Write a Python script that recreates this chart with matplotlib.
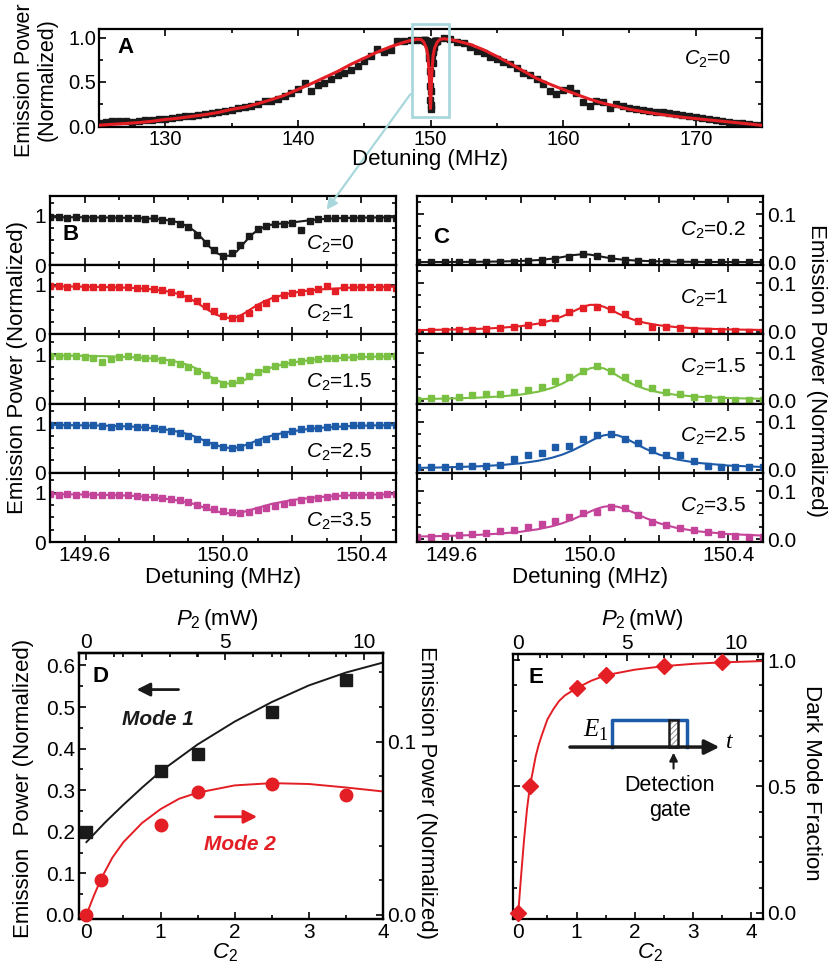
import matplotlib
matplotlib.use("Agg")
import matplotlib.pyplot as plt
import numpy as np
from matplotlib.patches import Rectangle, FancyArrowPatch
from matplotlib.ticker import MultipleLocator, FixedLocator

plt.rcParams["font.family"] = ["Liberation Sans", "DejaVu Sans"]
plt.rcParams["mathtext.fontset"] = "custom"
plt.rcParams["mathtext.rm"] = "Liberation Sans"
plt.rcParams["mathtext.it"] = "Liberation Sans:italic"
plt.rcParams["mathtext.bf"] = "Liberation Sans:bold"
plt.rcParams["hatch.linewidth"] = 0.8

BLACK = "#1a1a1a"
RED = "#e31e24"
GREEN = "#7ac143"
BLUE = "#1d5aa8"
MAGENTA = "#c4449a"
CYAN = "#a9d8dc"

# ---------------- panel A: wide scan, 0.5 MHz steps ----------------
a_left_x = np.arange(125.0, 149.01, 0.5)
a_left = [0.04, 0.05, 0.055, 0.06, 0.055, 0.045, 0.06, 0.065, 0.07, 0.08,
          0.085, 0.095, 0.10, 0.11, 0.115, 0.125, 0.135, 0.145, 0.16, 0.17,
          0.185, 0.20, 0.215, 0.23, 0.25, 0.28, 0.29, 0.31, 0.34, 0.38,
          0.415, 0.49, 0.40, 0.47, 0.49, 0.53, 0.58, 0.60, 0.63, 0.68,
          0.74, 0.79, 0.87, 0.84, 0.86, 0.96, 0.96, 0.97, 0.97]
a_right_x = np.arange(151.0, 175.01, 0.5)
a_right = [1.0, 0.985, 0.95, 0.94, 0.90, 0.85, 0.83, 0.78, 0.76, 0.73,
           0.70, 0.66, 0.60, 0.58, 0.53, 0.48, 0.40, 0.36, 0.41, 0.43,
           0.38, 0.27, 0.23, 0.28, 0.27, 0.21, 0.25, 0.23, 0.20, 0.19,
           0.18, 0.17, 0.165, 0.155, 0.143, 0.135, 0.13, 0.12, 0.10, 0.09,
           0.08, 0.07, 0.06, 0.05, 0.04, 0.03, 0.02, 0.015, 0.01]
a_fit_x = [125, 126, 127, 128, 129, 130, 131, 132, 133, 134, 135, 136, 137, 138,
           139, 140, 141, 142, 143, 144, 145, 146, 147, 148, 148.5, 149, 149.3,
           149.5, 149.7, 149.8, 149.9, 149.95, 150.0, 150.05, 150.1, 150.2, 150.3,
           150.5, 150.7, 151, 151.5, 152, 153, 154, 155, 156, 157, 158, 159, 160,
           161, 162, 163, 164, 165, 166, 167, 168, 169, 170, 171, 172, 173, 174, 175]
a_fit = [0.01, 0.02, 0.03, 0.04, 0.055, 0.075, 0.09, 0.11, 0.13, 0.155, 0.19, 0.215,
         0.255, 0.30, 0.35, 0.415, 0.48, 0.55, 0.62, 0.70, 0.77, 0.84, 0.90, 0.95,
         0.97, 0.985, 0.98, 0.95, 0.88, 0.80, 0.60, 0.38, 0.20, 0.38, 0.60, 0.80,
         0.88, 0.95, 0.98, 0.99, 0.98, 0.965, 0.925, 0.865, 0.79, 0.71, 0.625, 0.54,
         0.475, 0.415, 0.36, 0.305, 0.26, 0.225, 0.19, 0.165, 0.14, 0.12, 0.10,
         0.085, 0.07, 0.055, 0.04, 0.025, 0.008]

# ---------------- panel B: mode-1 dip, 0.025 MHz steps ----------------
b_x = np.arange(149.5, 150.501, 0.025)
b_labels = ["0", "1", "1.5", "2.5", "3.5"]
b_colors = [BLACK, RED, GREEN, BLUE, MAGENTA]
b_c0 = [0.97, 0.97, 0.965, 0.97, 0.965, 0.96, 0.965, 0.96, 0.955, 0.96,
        0.95, 0.94, 0.95, 0.92, 0.89, 0.83, 0.77, 0.62, 0.45, 0.30,
        0.19, 0.24, 0.40, 0.60, 0.73, 0.80, 0.83, 0.84, 0.86, 0.71,
        0.90, 0.93, 0.95, 0.96, 0.955, 0.96, 0.965, 0.96, 0.965, 0.96, 0.965]
b_c1 = [0.97, 0.97, 0.965, 0.97, 0.965, 0.96, 0.965, 0.96, 0.955, 0.95,
        0.93, 0.93, 0.91, 0.89, 0.86, 0.81, 0.74, 0.68, 0.58, 0.47,
        0.38, 0.33, 0.34, 0.44, 0.56, 0.64, 0.74, 0.79, 0.84, 0.85,
        0.87, 0.92, 0.97, 0.87, 0.95, 0.96, 0.96, 0.96, 0.965, 0.96, 0.93]
b_c15 = [0.97, 0.96, 0.97, 0.96, 0.95, 0.93, 0.85, 0.90, 0.95, 0.96,
         0.94, 0.93, 0.92, 0.89, 0.84, 0.80, 0.74, 0.66, 0.57, 0.48,
         0.40, 0.42, 0.47, 0.55, 0.63, 0.70, 0.76, 0.80, 0.84, 0.86,
         0.88, 0.90, 0.92, 0.93, 0.94, 0.95, 0.96, 0.96, 0.96, 0.96, 0.96]
b_c25 = [0.97, 0.96, 0.97, 0.97, 0.96, 0.96, 0.95, 0.93, 0.94, 0.94,
         0.93, 0.93, 0.91, 0.89, 0.85, 0.80, 0.75, 0.69, 0.63, 0.57,
         0.53, 0.50, 0.52, 0.56, 0.62, 0.68, 0.74, 0.78, 0.84, 0.88,
         0.90, 0.91, 0.93, 0.95, 0.95, 0.96, 0.96, 0.97, 0.96, 0.97, 0.97]
b_c35 = [0.97, 0.96, 0.97, 0.96, 0.97, 0.96, 0.96, 0.95, 0.96, 0.95,
         0.94, 0.92, 0.92, 0.90, 0.86, 0.84, 0.80, 0.75, 0.70, 0.66,
         0.62, 0.60, 0.58, 0.61, 0.65, 0.69, 0.73, 0.77, 0.81, 0.85,
         0.87, 0.90, 0.92, 0.93, 0.95, 0.95, 0.96, 0.96, 0.96, 0.97, 0.97]
b_fit_x = [149.5, 149.55, 149.6, 149.65, 149.7, 149.75, 149.8, 149.84, 149.87, 149.9,
           149.92, 149.94, 149.96, 149.98, 150.0, 150.02, 150.04, 150.06, 150.08, 150.1,
           150.12, 150.14, 150.17, 150.2, 150.24, 150.28, 150.33, 150.38, 150.44, 150.5]
b_fit_c0 = [0.97, 0.97, 0.97, 0.965, 0.96, 0.955, 0.94, 0.91, 0.87, 0.78, 0.68, 0.54,
            0.38, 0.25, 0.19, 0.19, 0.28, 0.44, 0.60, 0.71, 0.78, 0.82, 0.845, 0.865,
            0.90, 0.93, 0.95, 0.96, 0.965, 0.97]
b_fit_c1 = [0.97, 0.97, 0.965, 0.96, 0.95, 0.935, 0.91, 0.87, 0.82, 0.74, 0.66, 0.57,
            0.48, 0.40, 0.35, 0.33, 0.35, 0.42, 0.51, 0.60, 0.67, 0.73, 0.79, 0.84,
            0.88, 0.91, 0.93, 0.95, 0.96, 0.965]
b_fit_c15 = [0.97, 0.97, 0.965, 0.96, 0.95, 0.935, 0.91, 0.88, 0.84, 0.78, 0.72, 0.64,
             0.56, 0.48, 0.42, 0.40, 0.42, 0.47, 0.54, 0.62, 0.68, 0.73, 0.79, 0.83,
             0.87, 0.90, 0.92, 0.94, 0.95, 0.96]
b_fit_c25 = [0.97, 0.965, 0.96, 0.955, 0.945, 0.93, 0.90, 0.87, 0.83, 0.78, 0.73, 0.67,
             0.61, 0.56, 0.52, 0.50, 0.51, 0.55, 0.60, 0.66, 0.71, 0.75, 0.80, 0.84,
             0.88, 0.91, 0.93, 0.95, 0.96, 0.965]
b_fit_c35 = [0.97, 0.965, 0.96, 0.955, 0.945, 0.93, 0.90, 0.87, 0.84, 0.80, 0.76, 0.71,
             0.66, 0.62, 0.59, 0.58, 0.585, 0.61, 0.65, 0.69, 0.73, 0.77, 0.81, 0.85,
             0.88, 0.91, 0.93, 0.95, 0.96, 0.965]

# ---------------- panel C: mode-2 peak, 0.04 MHz steps ----------------
c_x = np.arange(149.5, 150.501, 0.04)
c_labels = ["0.2", "1", "1.5", "2.5", "3.5"]
c_c02 = [0.0, 0.0, 0.0, 0.0, 0.0, 0.0005, 0.001, 0.001, 0.002, 0.004, 0.007, 0.011, 0.018,
         0.014, 0.008, 0.004, 0.002, 0.001, 0.001, 0.0, 0.0, 0.0, 0.0, 0.0, 0.0, 0.0]
c_c1 = [0.0, 0.001, 0.001, 0.003, 0.003, 0.005, 0.007, 0.010, 0.014, 0.020, 0.028, 0.040, 0.049,
        0.052, 0.046, 0.036, 0.022, 0.010, 0.010, 0.007, 0.004, 0.002, 0.001, 0.001, 0.0, 0.0]
c_c15 = [0.001, 0.005, 0.005, 0.008, 0.012, 0.014, 0.015, 0.018, 0.022, 0.028, 0.040, 0.050, 0.061,
         0.072, 0.061, 0.050, 0.037, 0.026, 0.019, 0.014, 0.007, 0.005, 0.003, 0.001, 0.001, 0.001]
c_c25 = [0.007, 0.007, 0.007, 0.008, 0.008, 0.008, 0.010, 0.023, 0.032, 0.035, 0.048, 0.049, 0.065,
         0.072, 0.075, 0.065, 0.055, 0.042, 0.030, 0.030, 0.018, 0.008, 0.007, 0.006, 0.006, 0.006]
c_c35 = [0.004, 0.005, 0.007, 0.009, 0.011, 0.012, 0.016, 0.019, 0.025, 0.032, 0.037, 0.046, 0.055,
         0.057, 0.066, 0.064, 0.050, 0.036, 0.029, 0.024, 0.018, 0.014, 0.011, 0.007, 0.005, 0.004]
c_fit_x = [149.5, 149.56, 149.62, 149.68, 149.74, 149.8, 149.85, 149.89, 149.92, 149.95,
           149.98, 150.0, 150.02, 150.04, 150.06, 150.08, 150.1, 150.13, 150.16, 150.2,
           150.25, 150.31, 150.4, 150.5]
c_fit_c02 = [0.0005, 0.0006, 0.0008, 0.0011, 0.0017, 0.0028, 0.0047, 0.0075, 0.0109, 0.0149,
             0.017, 0.016, 0.0136, 0.0109, 0.0085, 0.0066, 0.0052, 0.0038, 0.0028, 0.002,
             0.0014, 0.0009, 0.0006, 0.0004]
c_fit_c1 = [0.003, 0.0036, 0.0044, 0.0056, 0.0076, 0.0112, 0.0164, 0.0235, 0.0314, 0.0414,
            0.0515, 0.0555, 0.0555, 0.0515, 0.045, 0.0379, 0.0314, 0.0235, 0.0179, 0.0129,
            0.0091, 0.0065, 0.0044, 0.0032]
c_fit_c15 = [0.0035, 0.0041, 0.0051, 0.0065, 0.0088, 0.0128, 0.0187, 0.0266, 0.0355, 0.0473,
             0.0605, 0.0673, 0.070, 0.0673, 0.0605, 0.0517, 0.0431, 0.0322, 0.0243, 0.0173,
             0.012, 0.0083, 0.0055, 0.0039]
c_fit_c25 = [0.0042, 0.005, 0.0061, 0.0076, 0.010, 0.0138, 0.019, 0.0253, 0.0319, 0.0407,
             0.0516, 0.0594, 0.0667, 0.072, 0.074, 0.072, 0.0667, 0.0555, 0.0441, 0.0319,
             0.0218, 0.0147, 0.0091, 0.0061]
c_fit_c35 = [0.0054, 0.0062, 0.0074, 0.009, 0.0115, 0.0154, 0.0206, 0.0267, 0.033, 0.041,
             0.0506, 0.0572, 0.0632, 0.0674, 0.069, 0.0674, 0.0632, 0.0539, 0.0441, 0.033,
             0.0233, 0.0163, 0.0105, 0.0074]

# ---------------- panel D ----------------
P2_PER_C2 = 2.67
d_mode1_c2 = [0, 1, 1.5, 2.5, 3.5]
d_mode1 = [0.20, 0.347, 0.386, 0.489, 0.566]
d_mode1_fit_x = [0, 0.25, 0.5, 0.75, 1.0, 1.5, 2.0, 2.5, 3.0, 3.5, 4.0]
d_mode1_fit = [0.175, 0.222, 0.265, 0.306, 0.345, 0.41, 0.465, 0.512, 0.552, 0.583, 0.607]
d_mode2_c2 = [0, 0.2, 1, 1.5, 2.5, 3.5]
d_mode2 = [0.0, 0.0202, 0.052, 0.071, 0.0757, 0.0693]
d_mode2_fit_x = [0, 0.1, 0.2, 0.35, 0.5, 0.75, 1.0, 1.25, 1.5, 2.0, 2.5, 3.0, 3.5, 4.0]
d_mode2_fit = [0.0, 0.011, 0.021, 0.033, 0.042, 0.053, 0.061, 0.067, 0.0705, 0.0747,
               0.076, 0.0755, 0.0735, 0.0712]
p2_major = [0, 5, 10]
p2_minor_d = [1, 2, 3, 4, 6, 7, 8, 9]
p2_minor_e = [1, 2, 3, 4, 6, 7, 8, 9, 11]

# ---------------- panel E ----------------
e_c2 = [0, 0.2, 1, 1.5, 2.5, 3.5]
e_frac = [0.0, 0.5, 0.889, 0.94, 0.976, 0.992]
e_fit_x = [0, 0.05, 0.1, 0.15, 0.2, 0.3, 0.35, 0.4, 0.5, 0.6, 0.7, 0.8, 1.0, 1.25,
           1.5, 2.0, 2.5, 3.0, 3.5, 4.2]
e_fit = [0.0, 0.15, 0.29, 0.41, 0.5, 0.62, 0.664, 0.70, 0.765, 0.805, 0.838, 0.86,
         0.889, 0.918, 0.94, 0.962, 0.976, 0.985, 0.991, 0.996]

W, H = 835, 976
TICK_FS = 15
LABEL_FS = 16


def frame(ax, lw=1.6, fs=TICK_FS):
    for s in ax.spines.values():
        s.set_linewidth(lw)
    ax.tick_params(which="both", direction="in", width=1.2, labelsize=fs,
                   top=True, right=True, pad=3)
    ax.tick_params(which="major", length=5)
    ax.tick_params(which="minor", length=3)


def top_axis(ax, minor):
    sec = ax.secondary_xaxis("top", functions=(lambda c: c * P2_PER_C2,
                                               lambda p: p / P2_PER_C2))
    sec.xaxis.set_major_locator(FixedLocator(p2_major))
    sec.xaxis.set_minor_locator(FixedLocator(minor))
    sec.tick_params(which="both", direction="in", width=1.2, labelsize=TICK_FS, pad=1)
    sec.tick_params(which="major", length=5)
    sec.tick_params(which="minor", length=3)
    sec.spines["top"].set_linewidth(1.6)
    return sec


def fig_box(l, t, r, b):
    return [l / W, 1 - b / H, (r - l) / W, (b - t) / H]


fig = plt.figure(figsize=(W / 100, H / 100), dpi=100)

# ---- A ----
ax_a = fig.add_axes(fig_box(99, 29, 762, 127))
frame(ax_a, fs=14.5)
ax_a.tick_params(pad=2)
ax_a.plot(a_left_x, a_left, "s", color=BLACK, ms=4, zorder=2)
ax_a.plot(a_right_x, a_right, "s", color=BLACK, ms=4, zorder=2)
ax_a.plot(b_x, b_c0, "s", color=BLACK, ms=4, zorder=2)
ax_a.plot(a_fit_x, a_fit, "-", color=RED, lw=2.2, zorder=3)
ax_a.set_xlim(125, 175)
ax_a.set_ylim(-0.01, 1.1)
ax_a.xaxis.set_major_locator(MultipleLocator(10))
ax_a.xaxis.set_minor_locator(MultipleLocator(5))
ax_a.yaxis.set_major_locator(MultipleLocator(0.5))
ax_a.yaxis.set_minor_locator(MultipleLocator(0.25))
ax_a.yaxis.set_major_formatter("{x:.1f}")
ax_a.add_patch(Rectangle((148.6, 0.106), 2.76, 1.054, fill=False, ec=CYAN, lw=2,
                         clip_on=False, zorder=5))
ax_a.text(0.028, 0.92, "A", transform=ax_a.transAxes, ha="left", va="top",
          fontsize=16, fontweight="bold")
ax_a.text(0.918, 0.69, r"$C_2$=0", transform=ax_a.transAxes, ha="center",
          va="center", fontsize=14.5)
fig.text(36 / W, 1 - 80 / H, "Emission Power\n(Normalized)", rotation=90,
         ha="center", va="center", fontsize=15.5, linespacing=1.1)
fig.text(430 / W, 1 - 160 / H, "Detuning (MHz)", ha="center", va="center",
         fontsize=LABEL_FS)

fig.add_artist(FancyArrowPatch(posA=(412 / W, 1 - 92 / H), posB=(325 / W, 1 - 212 / H),
                               transform=fig.transFigure, arrowstyle="-|>",
                               mutation_scale=16, color=CYAN, lw=1.6))

# ---- B and C ----
b_data = [b_c0, b_c1, b_c15, b_c25, b_c35]
b_fits = [b_fit_c0, b_fit_c1, b_fit_c15, b_fit_c25, b_fit_c35]
c_data = [c_c02, c_c1, c_c15, c_c25, c_c35]
c_fits = [c_fit_c02, c_fit_c1, c_fit_c15, c_fit_c25, c_fit_c35]
panel_top, panel_h = 196, 69.2
xt = [149.6, 149.8, 150.0, 150.2, 150.4]
xtl = ["149.6", "", "150.0", "", "150.4"]

for i in range(5):
    t = panel_top + i * panel_h
    axb = fig.add_axes(fig_box(50, t, 396, t + panel_h))
    frame(axb)
    axb.plot(b_x, b_data[i], "s", color=b_colors[i], ms=4.3)
    axb.plot(b_fit_x, b_fits[i], "-", color=b_colors[i], lw=1.5)
    axb.set_xlim(149.5, 150.5)
    axb.set_ylim(0, 1.4)
    axb.set_yticks([0, 1], ["0", "1"])
    axb.yaxis.set_minor_locator(MultipleLocator(0.25))
    axb.set_xticks(xt, xtl if i == 4 else [""] * 5)
    axb.xaxis.set_minor_locator(MultipleLocator(0.1))
    axb.text(0.74, 0.3, r"$C_2$=" + b_labels[i], transform=axb.transAxes,
             ha="left", va="center", fontsize=15)
    if i == 0:
        axb.text(0.035, 0.6, "B", transform=axb.transAxes, ha="left", va="top",
                 fontsize=16, fontweight="bold")

    axc = fig.add_axes(fig_box(417, t, 763, t + panel_h))
    frame(axc)
    axc.tick_params(labelleft=False, labelright=True)
    axc.plot(c_x, c_data[i], "s", color=b_colors[i], ms=4.3)
    axc.plot(c_fit_x, c_fits[i], "-", color=b_colors[i], lw=1.5)
    axc.set_xlim(149.5, 150.5)
    axc.set_ylim(-0.006, 0.138)
    axc.set_yticks([0, 0.1], ["0.0", "0.1"])
    axc.yaxis.set_minor_locator(MultipleLocator(0.025))
    axc.set_xticks(xt, xtl if i == 4 else [""] * 5)
    axc.xaxis.set_minor_locator(MultipleLocator(0.1))
    axc.text(0.76, 0.52 if i else 0.5, r"$C_2$=" + c_labels[i], transform=axc.transAxes,
             ha="left", va="center", fontsize=15)
    if i == 0:
        axc.text(0.046, 0.55, "C", transform=axc.transAxes, ha="left", va="top",
                 fontsize=16, fontweight="bold")

fig.text(18 / W, 1 - 368 / H, "Emission Power (Normalized)", rotation=90,
         ha="center", va="center", fontsize=LABEL_FS)
fig.text(816 / W, 1 - 370 / H, "Emission Power (Normalized)", rotation=270,
         ha="center", va="center", fontsize=LABEL_FS)
fig.text(223 / W, 1 - 578 / H, "Detuning (MHz)", ha="center", va="center",
         fontsize=LABEL_FS)
fig.text(590 / W, 1 - 578 / H, "Detuning (MHz)", ha="center", va="center",
         fontsize=LABEL_FS)

# ---- D ----
ax_d = fig.add_axes(fig_box(79, 653, 383, 919))
frame(ax_d)
ax_d.tick_params(top=False, right=False)
ax_d.plot(d_mode1_fit_x, d_mode1_fit, "-", color=BLACK, lw=1.4)
ax_d.plot(d_mode1_c2, d_mode1, "s", color=BLACK, ms=8, clip_on=False, zorder=4)
ax_d.set_xlim(-0.1, 4)
ax_d.set_ylim(-0.01, 0.63)
ax_d.xaxis.set_major_locator(MultipleLocator(1))
ax_d.xaxis.set_minor_locator(MultipleLocator(0.5))
ax_d.yaxis.set_major_locator(MultipleLocator(0.1))
ax_d.yaxis.set_minor_locator(MultipleLocator(0.05))
ax_d.yaxis.set_major_formatter("{x:.1f}")
ax_d2 = ax_d.twinx()
frame(ax_d2)
ax_d2.tick_params(left=False, top=False, labelleft=False)
ax_d2.plot(d_mode2_fit_x, d_mode2_fit, "-", color=RED, lw=1.4)
ax_d2.plot(d_mode2_c2, d_mode2, "o", color=RED, ms=9, clip_on=False, zorder=4)
ax_d2.set_ylim(-0.0024, 0.1511)
ax_d2.set_yticks([0, 0.1], ["0.0", "0.1"])
ax_d2.yaxis.set_minor_locator(MultipleLocator(0.02))
top_axis(ax_d, p2_minor_d)
ax_d.text(0.043, 0.95, "D", transform=ax_d.transAxes, ha="left", va="top",
          fontsize=16, fontweight="bold")
ax_d.annotate("", xy=(0.64, 0.542), xytext=(1.28, 0.542),
              arrowprops=dict(arrowstyle="-|>", color=BLACK, lw=2, mutation_scale=20))
ax_d.text(0.96, 0.47, "Mode 1", ha="center", va="center", fontsize=15,
          fontweight="bold", style="italic", color=BLACK)
ax_d.annotate("", xy=(2.34, 0.236), xytext=(1.7, 0.236),
              arrowprops=dict(arrowstyle="-|>", color=RED, lw=2, mutation_scale=20))
ax_d.text(2.07, 0.169, "Mode 2", ha="center", va="center", fontsize=15,
          fontweight="bold", style="italic", color=RED)
fig.text(24 / W, 1 - 788 / H, "Emission  Power (Normalized)", rotation=90,
         ha="center", va="center", fontsize=LABEL_FS)
fig.text(426 / W, 1 - 792 / H, "Emission Power (Normalized)", rotation=270,
         ha="center", va="center", fontsize=LABEL_FS)
fig.text(225 / W, 1 - 953 / H, r"$C_2$", ha="center", va="center", fontsize=LABEL_FS)
fig.text(217 / W, 1 - 620 / H, r"$P_2\,$(mW)", ha="center", va="center",
         fontsize=LABEL_FS)

# ---- E ----
ax_e = fig.add_axes(fig_box(513, 654, 763, 919))
frame(ax_e)
ax_e.tick_params(top=False, labelleft=False, labelright=True)
ax_e.plot(e_fit_x, e_fit, "-", color=RED, lw=1.4)
ax_e.plot(e_c2, e_frac, "D", color=RED, ms=8.5, clip_on=False, zorder=4)
ax_e.set_xlim(-0.09, 4.2)
ax_e.set_ylim(-0.024, 1.024)
ax_e.xaxis.set_major_locator(MultipleLocator(1))
ax_e.xaxis.set_minor_locator(MultipleLocator(0.5))
ax_e.set_yticks([0, 0.5, 1.0], ["0.0", "0.5", "1.0"])
ax_e.yaxis.set_minor_locator(MultipleLocator(0.1))
top_axis(ax_e, p2_minor_e)
ax_e.text(0.06, 0.95, "E", transform=ax_e.transAxes, ha="left", va="top",
          fontsize=16, fontweight="bold")
# inset sketch: pulse, time axis and detection gate
ax_e.plot([1.61, 1.61, 2.9, 2.9], [0.656, 0.763, 0.763, 0.656], "-", color=BLUE, lw=2.5)
ax_e.add_patch(Rectangle((2.58, 0.656), 0.16, 0.107, fc="white", ec="#999999", lw=0,
                         hatch="//////", zorder=3))
ax_e.add_patch(Rectangle((2.58, 0.656), 0.16, 0.107, fill=False, ec=BLACK, lw=1.8,
                         zorder=3))
ax_e.annotate("", xy=(3.5, 0.656), xytext=(0.84, 0.656),
              arrowprops=dict(arrowstyle="-|>", color=BLACK, lw=2.5, mutation_scale=22),
              zorder=4)
ax_e.annotate("", xy=(2.665, 0.645), xytext=(2.665, 0.56),
              arrowprops=dict(arrowstyle="-|>", color=BLACK, lw=1.5, mutation_scale=12))
ax_e.text(3.56, 0.675, "t", ha="left", va="center", fontsize=17,
          family="Liberation Serif", style="italic")
ax_e.text(1.38, 0.725, "E", ha="right", va="center", fontsize=18,
          family="Liberation Serif", style="italic")
ax_e.text(1.38, 0.7, "1", ha="left", va="center", fontsize=13,
          family="Liberation Serif")
ax_e.text(2.6, 0.502, "Detection", ha="center", va="center", fontsize=15.5)
ax_e.text(2.6, 0.407, "gate", ha="center", va="center", fontsize=15.5)
fig.text(811 / W, 1 - 783 / H, "Dark Mode Fraction", rotation=270,
         ha="center", va="center", fontsize=LABEL_FS)
fig.text(650 / W, 1 - 953 / H, r"$C_2$", ha="center", va="center", fontsize=LABEL_FS)
fig.text(642 / W, 1 - 620 / H, r"$P_2\,$(mW)", ha="center", va="center",
         fontsize=LABEL_FS)

fig.savefig("out.png", dpi=100)
